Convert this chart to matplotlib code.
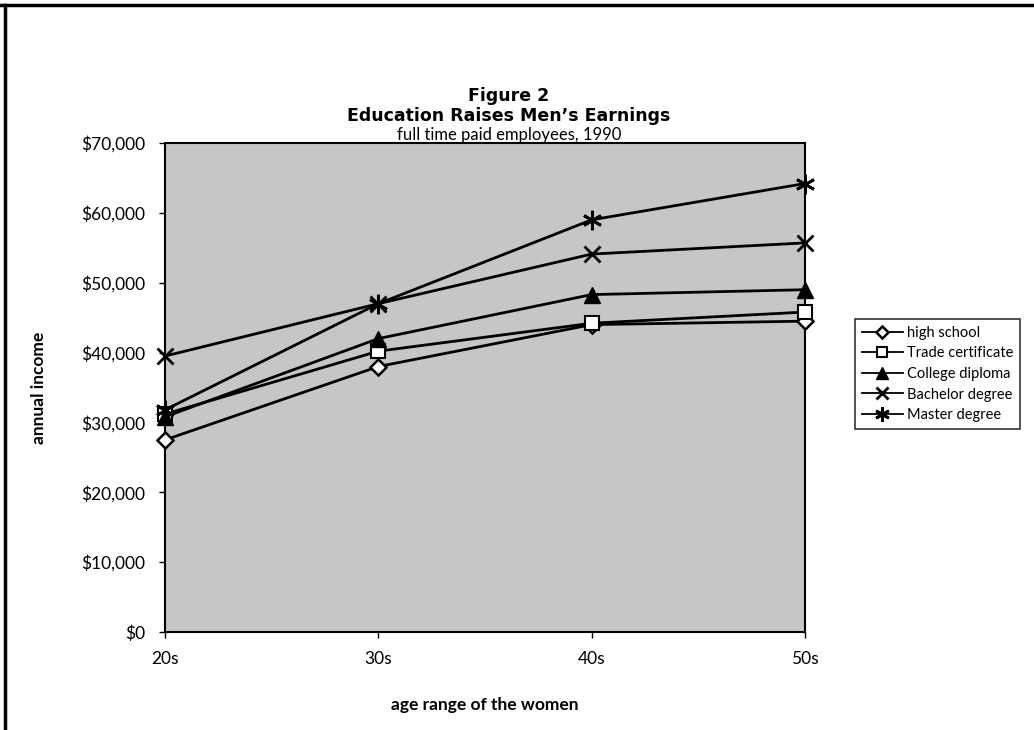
import numpy as np
import matplotlib.pyplot as plt
from matplotlib.lines import Line2D
from matplotlib.ticker import FuncFormatter

# Data
ages = ['20s', '30s', '40s', '50s']
high_school = [27500, 38000, 44000, 44500]
trade_cert = [31200, 40200, 44200, 45800]
college = [30800, 42000, 48300, 49000]
bachelor = [39500, 47000, 54100, 55700]
master = [31800, 47000, 59000, 64200]

plt.rcParams['font.family'] = ['Lato', 'DejaVu Sans']

fig = plt.figure(figsize=(10.34, 7.3), dpi=100)
ax = fig.add_axes([165/1034, 1 - 632/730, 640/1034, 489/730])
ax.set_facecolor('#c6c6c6')

x = np.arange(len(ages))
lw = 2
ax.plot(x, high_school, color='black', lw=lw, marker='D', markersize=8,
        markerfacecolor='white', markeredgecolor='black', markeredgewidth=1.8,
        label='high school', clip_on=False, zorder=3)
ax.plot(x, trade_cert, color='black', lw=lw, marker='s', markersize=10,
        markerfacecolor='white', markeredgecolor='black', markeredgewidth=1.5,
        label='Trade certificate', clip_on=False, zorder=3)
ax.plot(x, college, color='black', lw=lw, marker='^', markersize=11,
        label='College diploma', clip_on=False, zorder=3)
ax.plot(x, bachelor, color='black', lw=lw, marker='x', markersize=12,
        markeredgewidth=2, label='Bachelor degree', clip_on=False, zorder=3)
ax.plot(x, master, color='black', lw=lw, marker=(6, 2, 0), markersize=14,
        markeredgewidth=2, label='Master degree', clip_on=False, zorder=3)

ax.set_xlim(0, 3)
ax.set_ylim(0, 70000)
ax.set_xticks(x)
ax.set_xticklabels(ages)
ax.set_yticks(np.arange(0, 70001, 10000))
ax.yaxis.set_major_formatter(FuncFormatter(lambda v, p: '${:,.0f}'.format(v)))
ax.tick_params(axis='both', labelsize=12.5, length=4, width=1, direction='out')
ax.tick_params(axis='x', pad=10)
ax.tick_params(axis='y', pad=10)
for s in ax.spines.values():
    s.set_linewidth(1.5)

ax.set_xlabel('age range of the women', fontsize=12.5, fontweight='bold', labelpad=21)
ax.set_ylabel('annual income', fontsize=12.5, fontweight='bold', labelpad=25)

# titles
heavy = ['DejaVu Sans']
fig.text(0.492, 1 - 96/730, 'Figure 2', ha='center', va='center',
         fontsize=12.5, fontweight='bold', family=heavy)
fig.text(0.492, 1 - 116/730, "Education Raises Men\u2019s Earnings", ha='center', va='center',
         fontsize=12.5, fontweight='bold', family=heavy)
fig.text(0.492, 1 - 135/730, 'full time paid employees, 1990', ha='center', va='center',
         fontsize=12)

leg = ax.legend(loc='upper left', bbox_to_anchor=(848/1034, 1 - 312/730),
                bbox_transform=fig.transFigure, fontsize=10.5, frameon=True,
                fancybox=False, edgecolor='black', handlelength=2.8, markerscale=0.75,
                borderpad=0.45, labelspacing=0.45, handletextpad=0.3)
leg.get_frame().set_linewidth(1.2)
for h in leg.get_lines():
    h.set_linewidth(1.3)

# page border (top and left)
fig.add_artist(Line2D([0, 1], [1 - 5/730, 1 - 5/730], color='black', lw=2.5))
fig.add_artist(Line2D([5/1034, 5/1034], [0, 1 - 5/730], color='black', lw=2.5))

plt.savefig('out.png', dpi=100)
